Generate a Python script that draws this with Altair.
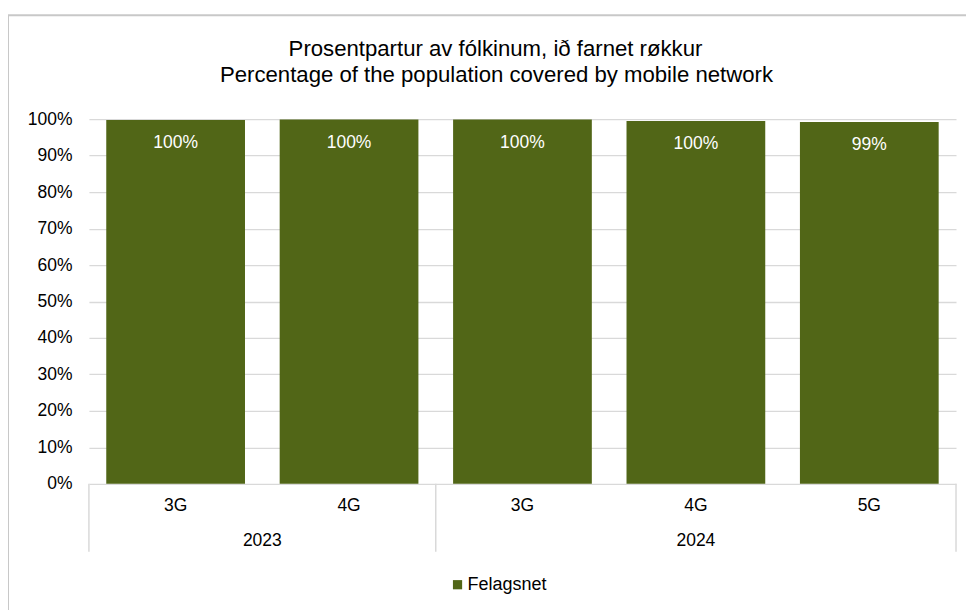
import altair as alt
import pandas as pd

# ---- data ----
years = ["2023", "2023", "2024", "2024", "2024"]
techs = ["3G", "4G", "3G", "4G", "5G"]
coverage = [99.8, 99.9, 99.9, 99.5, 99.2]
value_labels = ["100%", "100%", "100%", "100%", "99%"]
series_name = "Felagsnet"

group_names = ["2023", "2024"]
group_start = [0, 2]
group_end = [2, 5]

y_ticks = [0, 10, 20, 30, 40, 50, 60, 70, 80, 90, 100]

title_lines = [
    "Prosentpartur av fólkinum, ið farnet røkkur",
    "Percentage of the population covered by mobile network",
]

FONT = "Liberation Sans"
BAR = "#516617"
GRID = "#d9d9d9"

W, H = 868, 365

bars_df = pd.DataFrame({
    "year": years,
    "tech": techs,
    "value": coverage,
    "label": value_labels,
    "series": [series_name] * len(techs),
    "pos": list(range(len(techs))),
})
bars_df["x0"] = bars_df["pos"] + 0.1
bars_df["x1"] = bars_df["pos"] + 0.9
bars_df["xc"] = bars_df["pos"] + 0.5
bars_df["base"] = 0

groups_df = pd.DataFrame({"group": group_names, "start": group_start, "end": group_end})
groups_df["mid"] = (groups_df["start"] + groups_df["end"]) / 2
sep_df = pd.DataFrame({"sep": sorted(set(group_start) | set(group_end))})

xscale = alt.Scale(domain=[0, len(techs)], nice=False, zero=False)
yscale = alt.Scale(domain=[0, 100], nice=False)


def y_axis():
    return alt.Axis(
        title=None, values=y_ticks, labelExpr="datum.value + '%'",
        grid=True, gridColor=GRID, gridWidth=1.3, domain=False, ticks=False,
        labelOverlap=False, labelPadding=17, labelFontSize=17.5, labelFont=FONT,
        labelColor="#000000",
    )


bars = alt.Chart(bars_df).mark_bar().encode(
    x=alt.X("x0:Q", scale=xscale, axis=None),
    x2="x1:Q",
    y=alt.Y("value:Q", scale=yscale, axis=y_axis()),
    y2="base:Q",
    color=alt.Color(
        "series:N",
        scale=alt.Scale(range=[BAR]),
        legend=alt.Legend(
            title=None, orient="none", legendX=360, legendY=457, symbolType="square",
            symbolSize=85, symbolStrokeWidth=0, symbolOpacity=1, labelFontSize=18,
            labelFont=FONT, labelColor="#000000", labelOffset=1,
        ),
    ),
)

bar_labels = alt.Chart(bars_df).mark_text(
    color="#ffffff", fontSize=17.5, font=FONT, baseline="middle", dy=23
).encode(
    x=alt.X("xc:Q", scale=xscale, axis=None),
    y=alt.Y("value:Q", scale=yscale, axis=y_axis()),
    text="label:N",
)

seps = alt.Chart(sep_df).mark_rule(color=GRID, strokeWidth=1.5).encode(
    x=alt.X("sep:Q", scale=xscale, axis=None), y=alt.value(H), y2=alt.value(H + 68)
)

cat_labels = alt.Chart(bars_df).mark_text(
    fontSize=17.5, font=FONT, color="#000000", baseline="middle"
).encode(x=alt.X("xc:Q", scale=xscale, axis=None), y=alt.value(H + 22), text="tech:N")

grp_labels = alt.Chart(groups_df).mark_text(
    fontSize=17.5, font=FONT, color="#000000", baseline="middle"
).encode(x=alt.X("mid:Q", scale=xscale, axis=None), y=alt.value(H + 57), text="group:N")

border_df = pd.DataFrame({"k": [0]})
border_top = alt.Chart(border_df).mark_rule(color="#c8c8c8", strokeWidth=2).encode(
    x=alt.value(-81), x2=alt.value(W + 30), y=alt.value(-104)
)
border_left = alt.Chart(border_df).mark_rule(color="#c8c8c8", strokeWidth=2).encode(
    x=alt.value(-81), y=alt.value(-104), y2=alt.value(H + 130)
)

title1 = alt.Chart(border_df).mark_text(
    text=title_lines[0], fontSize=22.2, font=FONT, color="#000000", baseline="middle"
).encode(x=alt.value(407), y=alt.value(-70))
title2 = alt.Chart(border_df).mark_text(
    text=title_lines[1], fontSize=22.2, font=FONT, color="#000000", baseline="middle"
).encode(x=alt.value(408), y=alt.value(-44))

chart = alt.layer(
    border_top, border_left, bars, bar_labels, seps, cat_labels, grp_labels, title1, title2
).properties(
    width=W,
    height=H,
    autosize=alt.AutoSizeParams(type="none"),
    padding={"left": 81, "top": 111, "right": 10, "bottom": 130},
).configure_view(stroke=None)

chart.save("out.html", embed_options={"renderer": "svg", "actions": False})
